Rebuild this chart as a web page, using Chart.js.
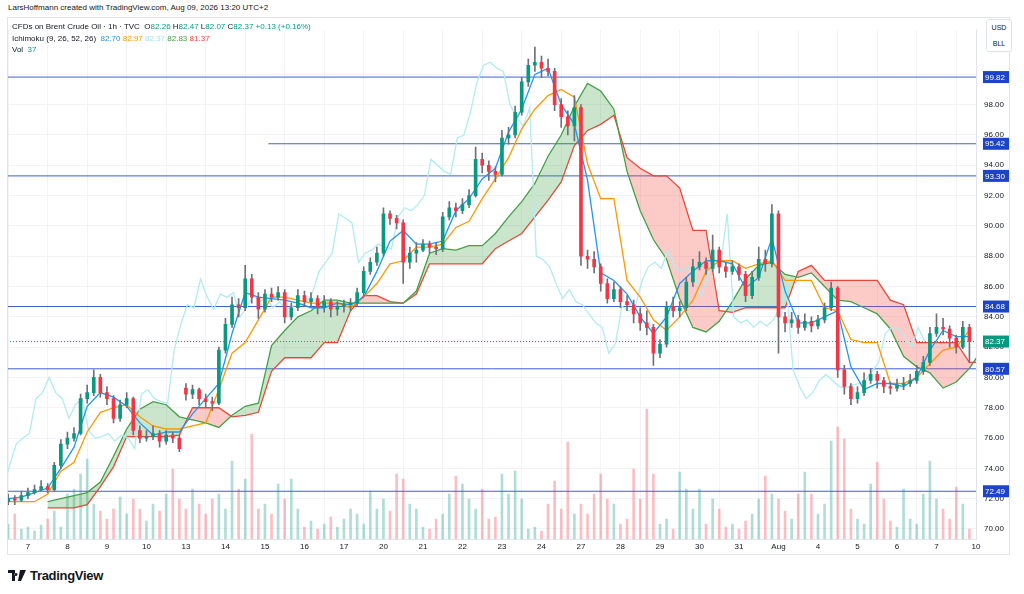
<!DOCTYPE html>
<html>
<head>
<meta charset="utf-8">
<script src="https://cdn.jsdelivr.net/npm/chart.js"></script>
<style>
  body { margin: 0; width: 1024px; height: 594px; background: #fff; position: relative; overflow: hidden;
         font-family: "Liberation Sans", Arial, sans-serif; color: #131722; }
  #credit { position: absolute; left: 8px; top: 3px; font-size: 8px; }
  #chart { position: absolute; left: 7px; top: 17px; }
  #frame { position: absolute; left: 7px; top: 17px; width: 1003px; height: 538px; box-sizing: border-box;
           border: 1px solid #e0e3eb; pointer-events: none; }
  #legend { position: absolute; left: 12px; top: 21px; font-size: 8px; line-height: 11.5px; }
  #legend .g { color: #089981; }
  #unit { position: absolute; left: 986px; top: 19px; width: 26px; height: 33px; box-sizing: border-box;
          border: 1px solid #e0e3eb; border-radius: 3px; background: #fff; font-size: 7px; line-height: 16px;
          text-align: center; }
  #logo { position: absolute; left: 8px; top: 568px; font-size: 13px; font-weight: bold; letter-spacing: -0.3px;
          display: flex; align-items: center; gap: 4px; }
</style>
</head>
<body>
<div id="credit">LarsHoffmann created with TradingView.com, Aug 09, 2026 13:20 UTC+2</div>
<canvas id="chart" width="1003" height="538"></canvas>
<div id="frame"></div>
<div id="legend">
  <div>CFDs on Brent Crude Oil · 1h · TVC&nbsp; O<span class="g">82.26</span> H<span class="g">82.47</span> L<span class="g">82.07</span> C<span class="g">82.37</span> <span class="g">+0.13 (+0.16%)</span></div>
  <div>Ichimoku (9, 26, 52, 26)&nbsp; <span style="color:#2196F3">82.70</span> <span style="color:#FF9800">82.97</span> <span style="color:#A7E3EE">82.37</span> <span style="color:#43A047">82.83</span> <span style="color:#F44336">81.37</span></div>
  <div>Vol&nbsp; <span class="g">37</span></div>
</div>
<div id="unit">USD<br>BLL</div>
<div id="logo">
  <svg width="18" height="11" viewBox="0 0 18 11"><path d="M0 0h7v11H4V3H0z M8 3a1.5 1.5 0 1 0 0.01 0z M12 0h6l-5 11h-3z" fill="#131722"/></svg>
  <span>TradingView</span>
</div>
<script>
// time axis: one unit per trading day, labels at day starts
const dayLabels = ["7", "8", "9", "10", "13", "14", "15", "16", "17", "20", "21", "22", "23", "24",
  "27", "28", "29", "30", "31", "Aug", "4", "5", "6", "7", "10"];
const priceTicks = [70, 72, 74, 76, 78, 80, 82, 84, 86, 88, 90, 92, 94, 96, 98, 100];

// candles, 6 per trading day, starting half a day before "7"
const barsPerDay = 6;
const firstBar = -0.5;
const opens = [
  71.8, 72.0, 71.9, 72.2, 72.4, 72.6, 72.8, 72.6, 74.2, 75.6,
  76.0, 76.3, 78.6, 79.0, 80.0, 79.0, 78.6, 77.3, 78.2, 78.6,
  76.5, 76.0, 76.1, 76.3, 75.8, 76.2, 76.0, 79.3, 78.9, 79.2,
  78.6, 78.4, 78.3, 81.8, 83.5, 84.8, 84.6, 86.5, 85.3, 84.5,
  85.5, 85.3, 85.6, 84.0, 84.6, 85.4, 85.0, 85.2, 84.6, 85.0,
  84.5, 84.7, 84.8, 84.9, 85.6, 87.0, 87.6, 88.2, 90.8, 90.5,
  90.2, 87.6, 88.2, 88.4, 88.8, 88.6, 88.5, 90.6, 91.2, 91.0,
  91.4, 92.0, 94.4, 94.0, 93.6, 93.4, 95.8, 96.0, 97.5, 99.5,
  100.6, 100.8, 100.4, 100.2, 98.0, 97.2, 96.6, 97.8, 88.0, 87.8,
  87.3, 86.2, 85.2, 85.8, 85.0, 84.8, 84.2, 83.6, 83.3, 81.6,
  82.2, 84.7, 84.4, 84.6, 86.3, 87.3, 87.6, 87.2, 88.4, 87.3,
  87.0, 87.3, 86.8, 85.4, 86.6, 87.8, 87.5, 90.8, 84.0, 83.6,
  83.8, 83.3, 83.7, 83.4, 83.8, 84.6, 85.9, 80.5, 79.4, 78.6,
  79.0, 79.8, 80.2, 79.8, 79.4, 79.3, 79.5, 79.6, 79.8, 80.4,
  81.0, 82.9, 83.3, 83.2, 82.6, 82.0, 83.3
];
const highs = [
  72.3, 72.2, 72.5, 72.7, 72.9, 73.2, 73.0, 74.4, 75.9, 76.4,
  76.7, 78.9, 79.5, 80.5, 80.2, 79.4, 78.8, 78.5, 79.0, 78.7,
  76.8, 76.5, 76.8, 76.5, 76.5, 76.4, 76.2, 79.6, 79.5, 79.3,
  78.9, 78.7, 82.0, 83.9, 85.3, 85.2, 87.4, 86.8, 85.6, 85.8,
  85.9, 86.0, 85.8, 84.9, 85.8, 85.7, 85.6, 85.4, 85.4, 85.2,
  85.0, 85.1, 85.2, 85.9, 87.3, 87.9, 88.6, 91.2, 91.0, 90.7,
  90.4, 88.6, 88.9, 89.1, 89.0, 88.9, 90.9, 91.6, 91.5, 91.8,
  92.4, 95.2, 94.8, 94.3, 93.9, 96.3, 96.5, 97.9, 99.8, 101.0,
  101.8, 101.2, 101.0, 100.4, 98.4, 97.6, 98.6, 98.0, 88.4, 88.3,
  87.5, 86.5, 86.3, 86.0, 85.4, 85.1, 84.6, 84.4, 83.5, 82.5,
  85.0, 85.3, 85.0, 86.6, 87.8, 88.3, 87.9, 89.4, 88.6, 87.6,
  87.7, 87.5, 87.0, 87.0, 88.6, 88.4, 91.4, 91.0, 84.3, 84.3,
  84.1, 84.2, 84.0, 84.1, 84.9, 86.3, 86.0, 80.8, 79.6, 79.4,
  80.3, 80.6, 80.4, 80.0, 79.7, 79.9, 80.0, 80.2, 80.8, 81.4,
  83.3, 84.2, 83.9, 83.4, 82.8, 83.7, 83.5
];
const lows = [
  71.6, 71.6, 71.8, 72.0, 72.3, 72.5, 72.4, 72.5, 74.0, 75.3,
  75.8, 76.2, 78.3, 78.8, 78.7, 78.2, 77.0, 77.1, 78.0, 76.2,
  75.7, 75.8, 75.9, 75.4, 75.6, 75.7, 75.1, 78.5, 78.6, 78.2,
  78.0, 77.8, 78.2, 81.6, 83.3, 84.0, 84.4, 84.9, 83.9, 84.3,
  85.0, 85.1, 83.6, 83.8, 84.4, 84.7, 84.7, 84.2, 84.3, 84.0,
  84.1, 84.3, 84.4, 84.7, 85.4, 86.8, 87.4, 88.0, 90.1, 89.8,
  86.2, 87.2, 87.6, 88.3, 88.2, 88.1, 88.3, 90.4, 90.6, 90.8,
  91.2, 91.9, 93.5, 93.0, 92.9, 93.3, 95.4, 95.8, 97.3, 99.2,
  100.2, 99.8, 99.9, 97.6, 96.5, 96.0, 95.6, 87.4, 87.2, 86.9,
  85.7, 84.9, 85.0, 84.6, 84.4, 83.6, 83.1, 82.8, 80.8, 81.3,
  82.0, 84.0, 84.0, 84.4, 86.0, 87.1, 86.8, 87.0, 86.9, 86.6,
  86.8, 86.4, 85.0, 85.2, 86.4, 87.0, 87.3, 81.6, 83.0, 83.3,
  82.9, 83.1, 83.0, 83.2, 83.6, 84.4, 80.0, 78.9, 78.2, 78.3,
  78.8, 79.6, 79.3, 79.0, 78.9, 79.1, 79.2, 79.4, 79.6, 80.2,
  80.8, 82.7, 82.8, 82.0, 81.6, 81.9, 81.0
];
const closes = [
  72.0, 71.9, 72.2, 72.4, 72.6, 72.8, 72.6, 74.2, 75.6, 76.0,
  76.3, 78.6, 79.0, 80.0, 79.0, 78.6, 77.3, 78.2, 78.6, 76.5,
  76.0, 76.1, 76.3, 75.8, 76.2, 76.0, 75.3, 78.9, 79.2, 78.6,
  78.4, 78.3, 81.8, 83.5, 84.8, 84.6, 86.5, 85.3, 84.5, 85.5,
  85.3, 85.6, 84.0, 84.6, 85.4, 85.0, 85.2, 84.6, 85.0, 84.5,
  84.7, 84.8, 84.9, 85.6, 87.0, 87.6, 88.2, 90.8, 90.5, 90.2,
  87.6, 88.2, 88.4, 88.8, 88.6, 88.5, 90.6, 91.2, 91.0, 91.4,
  92.0, 94.4, 94.0, 93.6, 93.4, 95.8, 96.0, 97.5, 99.5, 100.6,
  100.8, 100.4, 100.2, 98.0, 97.2, 96.6, 97.8, 88.0, 87.8, 87.3,
  86.2, 85.2, 85.8, 85.0, 84.8, 84.2, 83.6, 83.3, 81.6, 82.2,
  84.7, 84.4, 84.6, 86.3, 87.3, 87.6, 87.2, 88.4, 87.3, 87.0,
  87.3, 86.8, 85.4, 86.6, 87.8, 87.5, 90.8, 84.0, 83.6, 83.8,
  83.3, 83.7, 83.4, 83.8, 84.6, 85.9, 80.5, 79.4, 78.6, 79.0,
  79.8, 80.2, 79.8, 79.4, 79.3, 79.5, 79.6, 79.8, 80.4, 81.0,
  82.9, 83.3, 83.2, 82.6, 82.0, 83.3, 82.37
];
const volumes = [
  15, 25, 10, 12, 8, 14, 20, 28, 12, 45,
  50, 65, 80, 35, 28, 20, 30, 42, 25, 40,
  30, 18, 35, 28, 45, 70, 40, 30, 50, 35,
  25, 40, 45, 30, 78, 50, 60, 105, 30, 35,
  25, 55, 40, 60, 30, 12, 18, 10, 15, 22,
  12, 20, 30, 25, 15, 48, 30, 40, 28, 65,
  60, 35, 30, 12, 10, 20, 25, 45, 63, 55,
  40, 30, 50, 20, 22, 65, 45, 68, 40, 10,
  12, 8, 35, 58, 30, 97, 25, 35, 25, 45,
  65, 40, 35, 15, 20, 70, 40, 130, 65, 15,
  20, 10, 67, 50, 30, 50, 15, 40, 30, 12,
  15, 10, 18, 25, 40, 63, 45, 40, 28, 20,
  45, 67, 45, 25, 35, 98, 112, 100, 30, 20,
  15, 55, 77, 40, 18, 12, 50, 20, 15, 45,
  78, 40, 30, 20, 52, 35, 10
];

// ichimoku lines read every third of a day
const ichiPerDay = 3;
const tenkan = [
  72.0, 72.1, 72.4, 72.7, 74.0, 75.4, 78.1, 79.0, 78.7, 78.1,
  77.0, 76.2, 76.4, 76.4, 77.6, 78.6, 79.6, 82.9, 85.6, 85.3,
  85.2, 85.1, 84.9, 84.6, 84.6, 84.9, 84.8, 85.3, 87.0, 89.0,
  89.7, 88.8, 88.8, 89.0, 91.0, 91.8, 93.1, 93.8, 96.2, 97.7,
  100.0, 100.4, 98.0, 96.7, 93.0, 86.9, 86.4, 85.5, 84.0, 82.9,
  84.0, 86.2, 87.0, 87.7, 87.7, 87.5, 85.9, 86.6, 89.2, 85.7,
  83.6, 83.6, 84.0, 84.4, 80.7, 79.2, 79.6, 79.6, 79.4, 80.0,
  81.8, 83.1, 82.7, 82.7
];
const kijun = [
  71.8, 71.8, 71.8, 72.3, 73.8, 74.4, 76.4, 77.7, 78.0, 78.2,
  77.4, 76.8, 76.6, 76.6, 76.8, 77.0, 79.2, 81.6, 82.3, 83.8,
  85.3, 85.3, 85.1, 84.9, 84.9, 84.9, 84.6, 85.3, 86.2, 87.5,
  87.7, 88.6, 88.6, 88.8, 89.9, 90.3, 91.8, 93.1, 94.5, 96.4,
  97.7, 98.6, 99.0, 98.5, 94.1, 91.8, 91.8, 86.4, 85.3, 83.8,
  83.1, 84.0, 85.1, 87.0, 87.7, 87.7, 87.2, 87.5, 87.7, 86.4,
  86.4, 86.4, 84.6, 84.4, 82.5, 82.3, 82.3, 79.6, 79.6, 80.0,
  80.9, 81.8, 82.0, 83.1
];
const spanA = [
  null, null, null, 71.8, 72.0, 72.2, 72.4, 73.1, 74.8, 76.6,
  77.9, 78.4, 78.2, 77.4, 77.2, 77.0, 76.7, 77.5, 78.1, 78.3,
  82.1, 83.1, 84.0, 84.4, 85.1, 85.1, 84.9, 84.9, 84.9, 84.9,
  84.9, 85.7, 88.2, 88.5, 88.4, 88.7, 88.7, 89.5, 90.6, 91.6,
  92.8, 94.6, 96.0, 97.9, 99.4, 98.9, 97.7, 93.6, 91.0, 89.1,
  87.8, 85.2, 83.3, 83.0, 83.7, 85.0, 86.5, 87.4, 87.6, 86.8,
  86.6, 86.9, 86.0, 85.1, 85.0, 84.6, 84.2, 83.2, 81.4, 80.7,
  80.3, 79.3, 79.7, 80.6, 81.9
];
const spanB = [
  null, null, null, 71.4, 71.4, 71.4, 71.6, 72.8, 74.1, 76.1,
  76.1, 76.1, 76.1, 76.2, 78.0, 78.0, 78.0, 77.4, 77.5, 77.7,
  80.4, 81.3, 81.3, 81.3, 82.3, 82.3, 84.4, 85.4, 85.4, 85.0,
  84.9, 85.5, 87.5, 87.5, 87.5, 87.5, 87.5, 88.5, 89.0, 89.5,
  90.6, 91.7, 92.9, 95.3, 96.3, 96.7, 97.3, 94.5, 93.8, 93.3,
  93.3, 92.5, 89.7, 89.7, 84.4, 84.3, 84.6, 84.6, 84.6, 84.6,
  87.0, 87.4, 86.4, 86.4, 86.4, 86.4, 86.4, 85.1, 84.8, 82.3,
  82.3, 82.3, 82.3, 81.0, 81.0
];
const chikouShift = 26 / 23; // 26 hourly bars, 23 bars per session

// horizontal levels drawn on the chart, and the day each one starts at
const levels = [99.82, 95.42, 93.30, 84.68, 80.57, 72.49];
const levelFrom = [-0.53, 6.09, -0.53, -0.53, -0.53, -0.53];
const lastPrice = 82.37;

const xMin = -0.53, xMax = 24.0;
const up = "#089981", down = "#F23645";
const barX = i => firstBar + i / barsPerDay;
const ichiX = i => firstBar + i / ichiPerDay;
const isUp = closes.map((c, i) => c >= opens[i]);

const datasets = [];
datasets.push({
  type: "bar", label: "body", yAxisID: "y", order: 0, grouped: false,
  data: closes.map((c, i) => ({ x: barX(i), y: [opens[i], c] })),
  backgroundColor: isUp.map(u => u ? up : down),
  barThickness: 3, minBarLength: 1
});
datasets.push({
  type: "bar", label: "wick", yAxisID: "y", order: 1, grouped: false,
  data: closes.map((c, i) => ({ x: barX(i), y: [lows[i], highs[i]] })),
  backgroundColor: "#6f717a", barThickness: 1
});
datasets.push({
  type: "line", label: "tenkan", yAxisID: "y", order: 2,
  data: tenkan.map((v, i) => ({ x: ichiX(i), y: v })),
  borderColor: "#2196F3", borderWidth: 1.3, pointRadius: 0, fill: false
});
datasets.push({
  type: "line", label: "kijun", yAxisID: "y", order: 2,
  data: kijun.map((v, i) => ({ x: ichiX(i), y: v })),
  borderColor: "#FF9800", borderWidth: 1.3, pointRadius: 0, fill: false
});
datasets.push({
  type: "line", label: "chikou", yAxisID: "y", order: 3,
  data: closes.map((c, i) => ({ x: barX(i) - chikouShift, y: c })),
  borderColor: "#B2EBF2", borderWidth: 1.3, pointRadius: 0, fill: false
});
const spanBIndex = datasets.length + 1;
datasets.push({
  type: "line", label: "spanA", yAxisID: "y", order: 4,
  data: spanA.map((v, i) => ({ x: ichiX(i), y: v })),
  borderColor: "#43A047", borderWidth: 1.3, pointRadius: 0,
  fill: { target: spanBIndex, above: "rgba(67,160,71,0.28)", below: "rgba(244,67,54,0.28)" }
});
datasets.push({
  type: "line", label: "spanB", yAxisID: "y", order: 4,
  data: spanB.map((v, i) => ({ x: ichiX(i), y: v })),
  borderColor: "#F44336", borderWidth: 1.3, pointRadius: 0, fill: false
});
levels.forEach((lv, i) => datasets.push({
  type: "line", label: "level", yAxisID: "y", order: 5,
  data: [{ x: levelFrom[i], y: lv }, { x: xMax, y: lv }],
  borderColor: "#3D5FD8", borderWidth: 1, pointRadius: 0, fill: false
}));
datasets.push({
  type: "line", label: "last", yAxisID: "y", order: 5,
  data: [{ x: xMin, y: lastPrice }, { x: xMax, y: lastPrice }],
  borderColor: up, borderWidth: 1, borderDash: [1, 2], pointRadius: 0, fill: false
});
datasets.push({
  type: "bar", label: "vol", yAxisID: "yv", order: 6, grouped: false,
  data: volumes.map((v, i) => ({ x: barX(i), y: v })),
  backgroundColor: isUp.map(u => u ? "rgba(8,153,129,0.32)" : "rgba(242,54,69,0.32)"),
  barThickness: 2
});

const priceTags = {
  id: "priceTags",
  afterDraw(chart) {
    const { ctx, chartArea } = chart;
    const y = chart.scales.y;
    ctx.save();
    ctx.font = '8px "Liberation Sans", Arial, sans-serif';
    ctx.textBaseline = "middle";
    const tag = (v, bg) => {
      const py = y.getPixelForValue(v);
      ctx.fillStyle = bg;
      ctx.fillRect(chartArea.right + 7, py - 6, 27, 12);
      ctx.fillStyle = "#fff";
      ctx.fillText(v.toFixed(2), chartArea.right + 9, py + 0.5);
    };
    levels.forEach(v => tag(v, "#1C44C9"));
    tag(lastPrice, up);
    ctx.restore();
  }
};

new Chart(document.getElementById("chart"), {
  type: "bar",
  data: { datasets },
  plugins: [priceTags],
  options: {
    responsive: false,
    animation: false,
    layout: { padding: 0, autoPadding: false },
    plugins: { legend: { display: false }, tooltip: { enabled: false } },
    scales: {
      x: {
        type: "linear", min: xMin, max: xMax, offset: false,
        afterBuildTicks: s => { s.ticks = dayLabels.map((_, i) => ({ value: i })); },
        afterFit: s => { s.height = 16; },
        ticks: {
          autoSkip: false, maxRotation: 0, padding: 3, color: "#131722",
          font: { size: 8, family: '"Liberation Sans", Arial, sans-serif' },
          callback: v => dayLabels[Math.round(v)]
        },
        grid: { color: "#f2f3f6", drawTicks: false },
        border: { color: "#e0e3eb" }
      },
      y: {
        type: "linear", position: "right", min: 69.34, max: 102.94,
        afterBuildTicks: s => { s.ticks = priceTicks.map(v => ({ value: v })); },
        afterFit: s => { s.width = 34; },
        ticks: {
          padding: 8, color: "#131722",
          font: { size: 8, family: '"Liberation Sans", Arial, sans-serif' },
          callback: v => v.toFixed(2)
        },
        grid: { color: "#f2f3f6", drawTicks: false },
        border: { color: "#e0e3eb" }
      },
      yv: { type: "linear", display: false, min: 0, max: 510 }
    }
  }
});
</script>
</body>
</html>
